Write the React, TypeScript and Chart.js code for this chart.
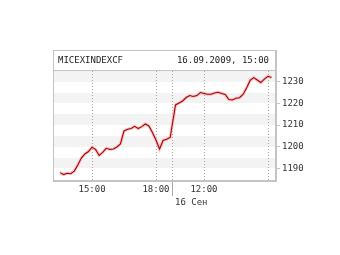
import React, { useEffect, useRef } from "react";
import { Chart, registerables } from "chart.js";

Chart.register(...registerables);

// MICEX index, 10-minute closes over two trading sessions
const day1Times = [
  "13:30", "13:40", "13:50", "14:00", "14:10", "14:20", "14:30", "14:40", "14:50",
  "15:00", "15:10", "15:20", "15:30", "15:40", "15:50", "16:00", "16:10", "16:20",
  "16:30", "16:40", "16:50", "17:00", "17:10", "17:20", "17:30", "17:40", "17:50",
  "18:00", "18:10", "18:20", "18:30", "18:40",
];
const day1Values = [
  1188.1, 1187.2, 1187.8, 1187.6, 1188.8, 1191.6, 1194.8, 1196.7, 1197.8,
  1199.8, 1198.8, 1196.0, 1197.4, 1199.3, 1198.8, 1199.0, 1199.9, 1201.3,
  1207.3, 1208.1, 1208.4, 1209.4, 1208.4, 1209.3, 1210.5, 1209.6, 1206.6,
  1203.1, 1199.0, 1202.9, 1203.5, 1204.3,
];
const day2Times = [
  "10:40", "10:50", "11:00", "11:10", "11:20", "11:30", "11:40", "11:50",
  "12:00", "12:10", "12:20", "12:30", "12:40", "12:50", "13:00", "13:10", "13:20",
  "13:30", "13:40", "13:50", "14:00", "14:10", "14:20", "14:30", "14:40", "14:50",
  "15:00", "15:10",
];
const day2Values = [
  1219.3, 1220.2, 1221.1, 1222.7, 1223.6, 1223.2, 1223.6, 1225.0,
  1224.6, 1224.2, 1224.2, 1224.8, 1225.1, 1224.6, 1224.1, 1221.8, 1221.6,
  1222.4, 1222.6, 1224.1, 1227.1, 1230.6, 1231.9, 1230.8, 1229.6, 1231.2,
  1232.5, 1231.9,
];

const yTicks = [1190, 1200, 1210, 1220, 1230];
const xGridTimes = ["15:00", "18:00", "12:00", "15:00"];
const xGridDays = [0, 0, 1, 1];
const xGridLabels = ["15:00", "18:00", "12:00", ""];
const dayBreakLabel = "16 Сен";
const titleLeft = "MICEXINDEXCF";
const titleRight = "16.09.2009, 15:00";

// trading session runs 10:30–18:45; the x axis counts session minutes
const SESSION_OPEN = 10 * 60 + 30;
const SESSION_LEN = 495;
function sessionMinute(day: number, hhmm: string): number {
  const [h, m] = hhmm.split(":").map(Number);
  return day * SESSION_LEN + h * 60 + m - SESSION_OPEN;
}

const X_MIN = 163;
const X_MAX = 785;
const Y_MIN = 1184.7;
const Y_MAX = 1234.93;

const FONT_FAMILY = "'DejaVu Sans Mono', 'Liberation Mono', monospace";
const FRAME = "#c4c4c4";
const TEXT = "#333333";

const points = [
  ...day1Times.map((t, i) => ({ x: sessionMinute(0, t), y: day1Values[i] })),
  ...day2Times.map((t, i) => ({ x: sessionMinute(1, t), y: day2Values[i] })),
];
const gridMinutes = xGridTimes.map((t, i) => sessionMinute(xGridDays[i], t));
const dayBreak = sessionMinute(1, "10:30");

const framePlugin = {
  id: "frame",
  beforeDatasetsDraw(chart: any) {
    const { ctx, chartArea, scales } = chart;
    const { left, right, top, bottom } = chartArea;
    ctx.save();
    // alternating bands: upper half of every 10-point step
    ctx.fillStyle = "#f3f3f3";
    yTicks.forEach((v) => {
      const y1 = scales.y.getPixelForValue(v + 5);
      const y0 = scales.y.getPixelForValue(v);
      const yt = Math.max(top, Math.round(y1));
      ctx.fillRect(left, yt, right - left, Math.round(y0) - yt);
    });
    // dotted time grid
    ctx.strokeStyle = "#a8a8a8";
    ctx.lineWidth = 1;
    ctx.setLineDash([1, 2]);
    [...gridMinutes, dayBreak].forEach((m) => {
      const x = Math.round(scales.x.getPixelForValue(m)) + 0.5;
      ctx.beginPath();
      ctx.moveTo(x, top);
      ctx.lineTo(x, bottom);
      ctx.stroke();
    });
    ctx.restore();
  },
  afterDraw(chart: any) {
    const { ctx, chartArea, scales } = chart;
    const { left, right, bottom } = chartArea;
    ctx.save();
    ctx.fillStyle = FRAME;
    // title box and plot frame
    ctx.fillRect(left - 1, 50, right - left + 3, 1);
    ctx.fillRect(left - 1, 70, right - left + 3, 1);
    ctx.fillRect(left - 1, 50, 1, bottom - 50 + 2);
    ctx.fillRect(right, 50, 2, bottom - 50 + 2);
    ctx.fillRect(left - 1, bottom, right - left + 3, 2);
    // session break marker below the axis
    const xb = Math.round(scales.x.getPixelForValue(dayBreak));
    ctx.fillStyle = "#a8a8a8";
    ctx.fillRect(xb, bottom + 2, 1, 14);
    ctx.fillStyle = TEXT;
    ctx.font = `9px ${FONT_FAMILY}`;
    ctx.textAlign = "left";
    ctx.textBaseline = "middle";
    ctx.fillText(dayBreakLabel, xb + 3, 203);
    ctx.restore();
  },
};

export default function App() {
  const canvasRef = useRef<HTMLCanvasElement | null>(null);

  useEffect(() => {
    const canvas = canvasRef.current;
    if (!canvas) return;
    const font = { family: FONT_FAMILY, size: 9 };
    const chart = new Chart(canvas, {
      type: "line",
      data: {
        datasets: [
          {
            data: points,
            borderColor: "#a60000",
            borderWidth: 1.1,
            pointRadius: 0,
            tension: 0,
            order: 0,
          },
          {
            data: points,
            borderColor: "rgba(246, 176, 176, 0.7)",
            borderWidth: 3.2,
            pointRadius: 0,
            tension: 0,
            order: 1,
          },
        ],
      },
      options: {
        animation: false,
        responsive: false,
        events: [],
        layout: { padding: { left: 54, top: 71, right: 0, bottom: 0 } },
        plugins: {
          legend: { display: false },
          tooltip: { enabled: false },
          title: { display: false },
        },
        scales: {
          x: {
            type: "linear",
            min: X_MIN,
            max: X_MAX,
            afterFit(scale: any) {
              scale.height = 75;
            },
            afterBuildTicks(scale: any) {
              scale.ticks = gridMinutes.map((v) => ({ value: v }));
            },
            ticks: {
              autoSkip: false,
              maxRotation: 0,
              padding: 4,
              color: TEXT,
              font,
              callback: (value: any) => xGridLabels[gridMinutes.indexOf(Number(value))] ?? "",
            },
            grid: { display: false, drawTicks: false },
            border: { display: false },
          },
          y: {
            position: "right",
            min: Y_MIN,
            max: Y_MAX,
            afterFit(scale: any) {
              scale.width = 65;
            },
            afterBuildTicks(scale: any) {
              scale.ticks = yTicks.map((v) => ({ value: v }));
            },
            ticks: {
              padding: 2,
              color: TEXT,
              font,
              callback: (value: any) => String(value),
            },
            grid: { drawOnChartArea: false, tickLength: 5, color: FRAME },
            border: { display: false },
          },
        },
      },
      plugins: [framePlugin],
    });
    return () => chart.destroy();
  }, []);

  const titleStyle: React.CSSProperties = {
    position: "absolute",
    top: 54,
    font: `9px ${FONT_FAMILY}`,
    lineHeight: "12px",
    color: "#222",
    whiteSpace: "nowrap",
  };

  return (
    <div style={{ position: "absolute", left: 0, top: 0, width: 340, height: 255, background: "#fff" }}>
      <canvas ref={canvasRef} width={340} height={255} style={{ display: "block" }} />
      <div style={{ ...titleStyle, left: 58 }}>{titleLeft}</div>
      <div style={{ ...titleStyle, right: 71 }}>{titleRight}</div>
    </div>
  );
}
